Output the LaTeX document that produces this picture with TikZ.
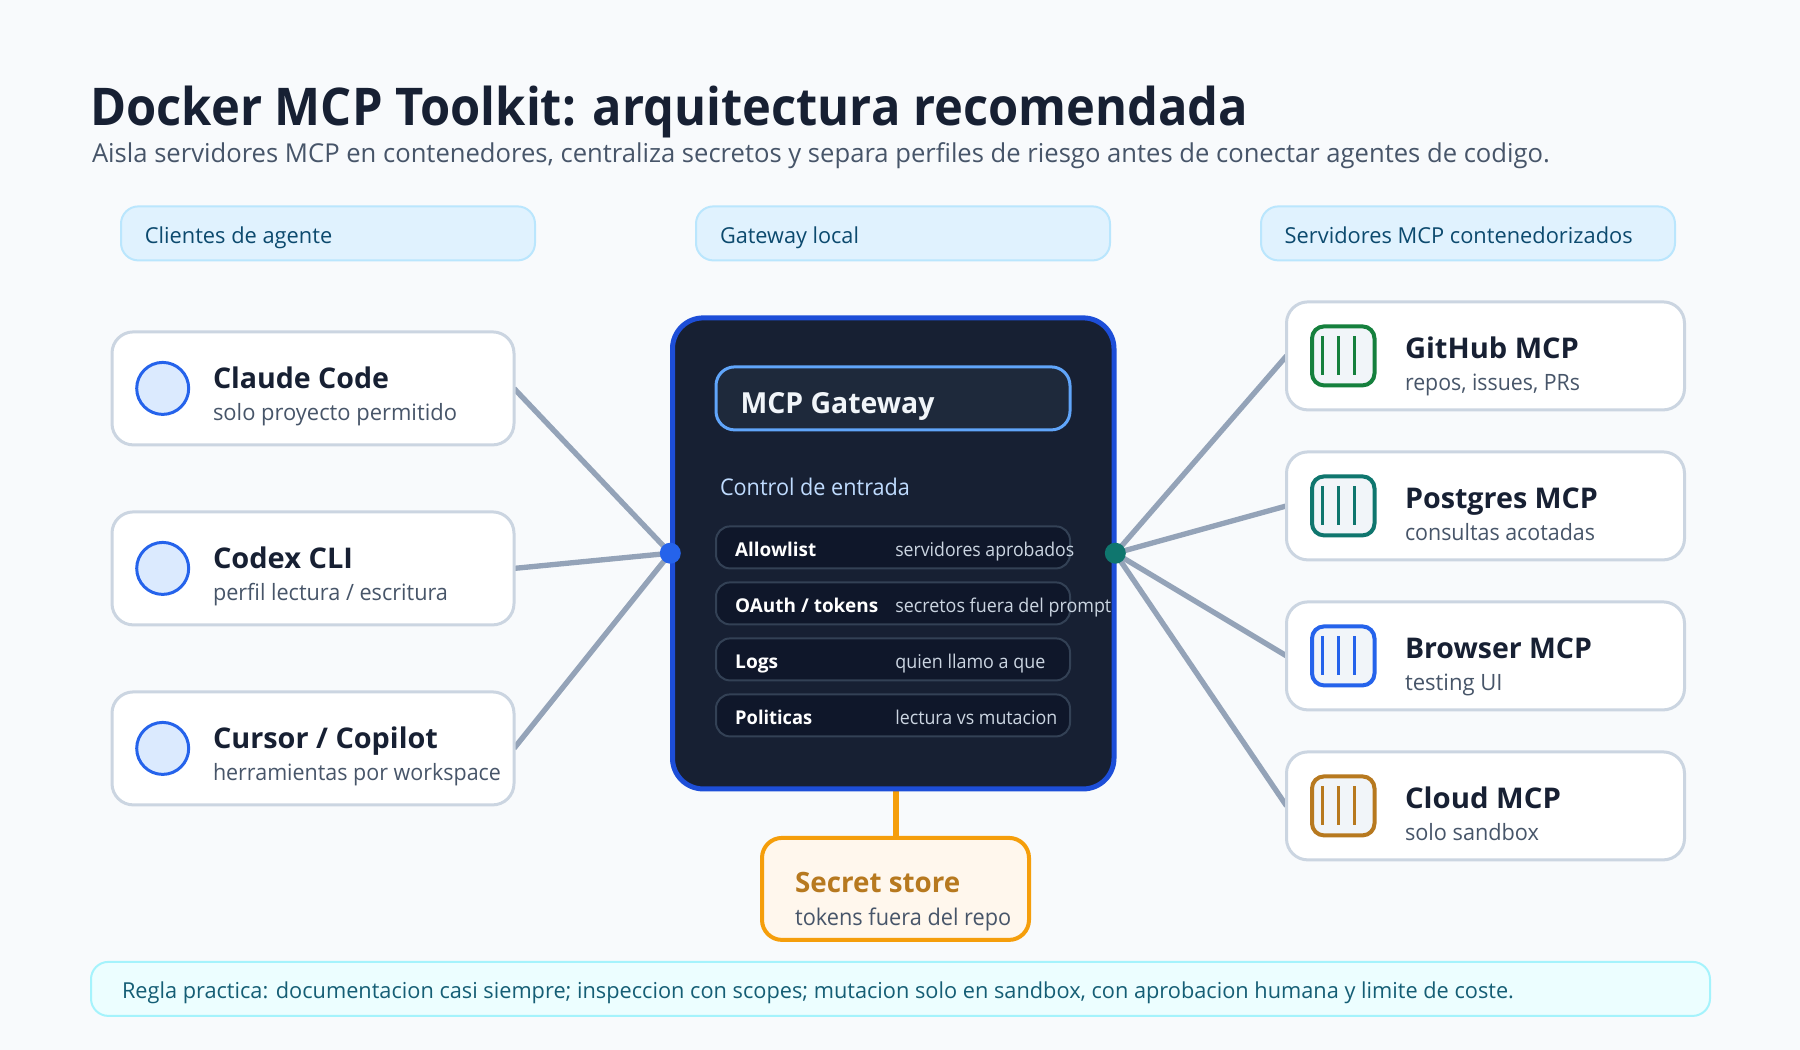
\documentclass[tikz,border=0pt]{standalone}
\usepackage{graphicx}
\usepackage{fontspec}
\setmainfont{Open Sans}
\definecolor{bgc}{HTML}{F8FAFC}
\definecolor{ink}{HTML}{172033}
\definecolor{slate}{HTML}{475569}
\definecolor{pillfill}{HTML}{E0F2FE}
\definecolor{pillline}{HTML}{BAE6FD}
\definecolor{pilltext}{HTML}{0C4A6E}
\definecolor{cardline}{HTML}{CBD5E1}
\definecolor{wire}{HTML}{94A3B8}
\definecolor{gwfill}{HTML}{172033}
\definecolor{gwline}{HTML}{1D4ED8}
\definecolor{headfill}{HTML}{1E293B}
\definecolor{headline}{HTML}{60A5FA}
\definecolor{rowfill}{HTML}{0F172A}
\definecolor{rowline}{HTML}{334155}
\definecolor{ctrl}{HTML}{BFDBFE}
\definecolor{headtext}{HTML}{F1F5F9}
\definecolor{blue}{HTML}{2563EB}
\definecolor{lightblue}{HTML}{DBEAFE}
\definecolor{teal}{HTML}{0F766E}
\definecolor{ghgreen}{HTML}{15803D}
\definecolor{brown}{HTML}{B7791F}
\definecolor{amber}{HTML}{F59E0B}
\definecolor{cream}{HTML}{FFF7ED}
\definecolor{notefill}{HTML}{ECFEFF}
\definecolor{noteline}{HTML}{A5F3FC}
\definecolor{notetext}{HTML}{155E75}
\definecolor{iconfill}{HTML}{F1F5F9}
% font size given in reference pixels
\newcommand\fpx[1]{\pgfmathsetmacro\tmpfs{#1*0.75}\fontsize{\tmpfs pt}{\tmpfs pt}\selectfont}
% set text to the width (in reference pixels) it has in the reference
\newcommand\fitw[2]{\setbox0=\hbox{#2}\pgfmathsetmacro\fitr{#1*0.75/\the\wd0}\scalebox{\fitr}[1]{\box0}}
\tikzset{
  sz/.style 2 args={minimum width=#1*0.75pt,minimum height=#2*0.75pt},
  boxbase/.style={rectangle,inner sep=0pt,outer sep=0pt},
  pill/.style={boxbase,sz={414}{54},draw=pillline,fill=pillfill,line width=1.5pt,rounded corners=13pt},
  card/.style={boxbase,draw=cardline,fill=white,line width=2.25pt,rounded corners=16pt},
  rowbox/.style={boxbase,sz={354}{42},draw=rowline,fill=rowfill,line width=1.5pt,rounded corners=10.5pt},
  icon/.style={boxbase,sz={62.5}{59},fill=iconfill,line width=3pt,rounded corners=9pt},
  tx/.style 2 args={anchor=base west,inner sep=0pt,outer sep=0pt,font=\fpx{#1},text=#2},
  txb/.style 2 args={anchor=base west,inner sep=0pt,outer sep=0pt,font=\fpx{#1}\bfseries,text=#2},
  wireline/.style={draw=wire,line width=4pt},
  dot/.style={circle,inner sep=0pt,outer sep=0pt,minimum size=15.75pt},
}
\newcommand\clientcard[6]{%
  \node[card,sz={402}{113}] (#1) at (313,#2) {};
  \node[circle,inner sep=0pt,outer sep=0pt,minimum size=39pt,draw=blue,fill=lightblue,line width=2.25pt] (#1i) at (162.7,#2) {};
  \node[txb={28.5}{ink}] (#1t) at (213,#2) {\fitw{#4}{#3}};
  \node[tx={22.5}{slate}] (#1s) at (213,#2+32) {\fitw{#6}{#5}};
}
\newcommand\servercard[7]{%
  \node[card,sz={398}{108}] (#1) at (1485.5,#2) {};
  \node[icon,draw=#3] (#1i) at (1343.25,#2) {};
  \foreach \bx in {-21,-5.3,10.8} \draw[#3,line width=2.25pt] (1343.75+\bx,#2-19.5) -- (1343.75+\bx,#2+19.5);
  \node[txb={28.5}{ink}] (#1t) at (1405,#2+2.5) {\fitw{#5}{#4}};
  \node[tx={22.5}{slate}] (#1s) at (1405,#2+34.5) {\fitw{#7}{#6}};
}
\newcommand\rowitem[6]{%
  \node[rowbox] (#1) at (893,#2) {};
  \node[txb={19}{white}] (#1a) at (735.2,#2+9) {\fitw{#4}{#3}};
  \node[tx={19}{cardline}] (#1b) at (895.3,#2+9) {\fitw{#6}{#5}};
}
\begin{document}
\begin{tikzpicture}[x=0.75pt,y=-0.75pt]
\useasboundingbox (0,0) rectangle (1800,1050);
\fill[bgc] (0,0) rectangle (1800,1050);
\begin{scope}[yshift=-0.3pt]
% anchors of the hubs, needed by the connectors drawn below the boxes
\node[dot] (dotL) at (670.3,552.8) {};
\node[dot] (dotR) at (1115.3,552.8) {};
\node[boxbase,sz={402}{113}] (c1a) at (313,388) {};
\node[boxbase,sz={402}{113}] (c2a) at (313,568) {};
\node[boxbase,sz={402}{113}] (c3a) at (313,748) {};
\node[boxbase,sz={398}{108}] (s1a) at (1485.5,355.5) {};
\node[boxbase,sz={398}{108}] (s2a) at (1485.5,505.5) {};
\node[boxbase,sz={398}{108}] (s3a) at (1485.5,655.5) {};
\node[boxbase,sz={398}{108}] (s4a) at (1485.5,805.5) {};
\node[boxbase,sz={441.5}{471}] (gwa) at (893.25,553) {};
\node[boxbase,sz={267}{102}] (seca) at (895.5,888.5) {};
% connectors
\draw[wireline] (c1a.east) -- (dotL.center);
\draw[wireline] (c2a.east) -- (dotL.center);
\draw[wireline] (c3a.east) -- (dotL.center);
\draw[wireline] (dotR.center) -- (s1a.west);
\draw[wireline] (dotR.center) -- (s2a.west);
\draw[wireline] (dotR.center) -- (s3a.west);
\draw[wireline] (dotR.center) -- (s4a.west);
\draw[amber,line width=4.5pt] (seca.north) -- (seca.north |- gwa.south);
% title
\node[txb={52}{ink}] (title) at (90.5,125.5) {\fitw{1158}{Docker MCP Toolkit: arquitectura recomendada}};
\node[tx={26}{slate}] (subtitle) at (92,162.2) {\fitw{1458}{Aisla servidores MCP en contenedores, centraliza secretos y separa perfiles de riesgo antes de conectar agentes de codigo.}};
% column heads
\node[pill] (p1) at (328,233) {};
\node[tx={22}{pilltext}] (p1t) at (144.8,243) {\fitw{187.5}{Clientes de agente}};
\node[pill] (p2) at (903,233) {};
\node[tx={22}{pilltext}] (p2t) at (720,243) {\fitw{139}{Gateway local}};
\node[pill] (p3) at (1468,233) {};
\node[tx={22}{pilltext}] (p3t) at (1284.7,243) {\fitw{348}{Servidores MCP contenedorizados}};
% clients
\clientcard{c1}{388}{Claude Code}{176}{solo proyecto permitido}{244}
\clientcard{c2}{568}{Codex CLI}{140}{perfil lectura / escritura}{235}
\clientcard{c3}{748}{Cursor / Copilot}{225}{herramientas por workspace}{288}
% servers
\servercard{s1}{355.5}{ghgreen}{GitHub MCP}{174}{repos, issues, PRs}{175}
\servercard{s2}{505.5}{teal}{Postgres MCP}{193}{consultas acotadas}{190}
\servercard{s3}{655.5}{blue}{Browser MCP}{187}{testing UI}{97.6}
\servercard{s4}{805.5}{brown}{Cloud MCP}{156}{solo sandbox}{134}
% gateway
\node[boxbase,sz={441.5}{471},draw=gwline,fill=gwfill,line width=3.75pt,rounded corners=23pt] (gw) at (893.25,553) {};
\node[boxbase,sz={354}{63},draw=headline,fill=headfill,line width=2.25pt,rounded corners=14pt] (gwh) at (893,398) {};
\node[txb={29}{headtext}] (gwt) at (740.5,413) {\fitw{194}{MCP Gateway}};
\node[tx={23}{ctrl}] (ctl) at (720,495.5) {\fitw{190}{Control de entrada}};
\rowitem{r1}{547}{Allowlist}{81}{servidores aprobados}{179}
\rowitem{r2}{603}{OAuth / tokens}{143}{secretos fuera del prompt}{216}
\rowitem{r3}{659}{Logs}{43}{quien llamo a que}{150}
\rowitem{r4}{715}{Politicas}{77}{lectura vs mutacion}{162}
\node[dot,fill=blue] (dotLv) at (dotL) {};
\node[dot,fill=teal] (dotRv) at (dotR) {};
% secret store
\node[boxbase,sz={267}{102},draw=amber,fill=cream,line width=3pt,rounded corners=15pt] (sec) at (895.5,888.5) {};
\node[txb={28}{brown}] (sect) at (795.2,892.5) {\fitw{165}{Secret store}};
\node[tx={23}{slate}] (secs) at (795.2,925.5) {\fitw{216}{tokens fuera del repo}};
% rule
\node[boxbase,sz={1619}{54},draw=noteline,fill=notefill,line width=1.5pt,rounded corners=13pt] (note) at (900.5,988.5) {};
\node[tx={22}{notetext}] (notet) at (122,998.5) {\fitw{1392}{Regla practica: documentacion casi siempre; inspeccion con scopes; mutacion solo en sandbox, con aprobacion humana y limite de coste.}};
\end{scope}
\end{tikzpicture}
\end{document}
